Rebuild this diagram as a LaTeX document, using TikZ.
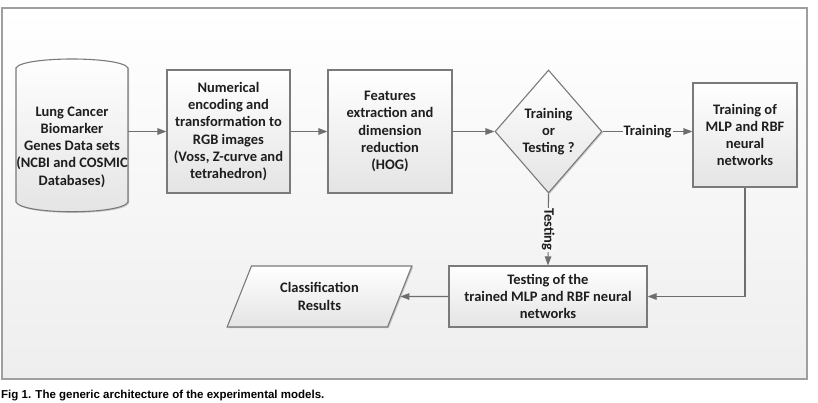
\documentclass[tikz,border=0pt]{standalone}
\usepackage{fontspec}
\setmainfont{Carlito}
\newfontfamily\capfont{Liberation Sans}
\usetikzlibrary{shapes.geometric,arrows.meta,shadows}

\definecolor{linegray}{HTML}{6E6E6E}
\definecolor{bordergray}{HTML}{7A7A7A}
\definecolor{txt}{HTML}{1E1E1E}
\definecolor{bgbot}{HTML}{EEEEEE}
\definecolor{boxbot}{HTML}{E4E4E4}
\definecolor{lblA}{HTML}{FAFAFA}
\definecolor{lblB}{HTML}{F6F6F6}

\tikzset{
  every node/.style={font=\fontsize{14.5}{17.3}\selectfont\bfseries, text=txt},
  shape frame/.style={draw=bordergray, line width=1.1pt, top color=white, bottom color=boxbot,
    drop shadow={shadow xshift=1.2pt, shadow yshift=-1.2pt, fill=black, opacity=0.18}},
  box/.style={shape frame, rectangle, align=center, inner sep=0pt},
  decision/.style={shape frame, diamond, align=center, inner sep=0pt},
  io/.style={shape frame, trapezium, trapezium left angle=63, trapezium right angle=117,
    trapezium stretches=true, align=center, inner sep=0pt},
  conn/.style={draw=linegray, line width=1.1pt, -{Triangle[length=9pt,width=6.5pt]}},
  lab/.style={inner sep=1pt, fill=#1},
}

\begin{document}
\begin{tikzpicture}[x=1pt,y=-1pt]
\useasboundingbox (0,0) rectangle (818,402);

% outer frame
\draw[draw=gray!75, line width=1.2pt, top color=white, bottom color=bgbot] (2,8) rectangle (807,379);

% database (cylinder-like) shape
\draw[draw=bordergray, line width=1.1pt, top color=white, bottom color=boxbot,
      drop shadow={shadow xshift=1.2pt, shadow yshift=-1.2pt, fill=black, opacity=0.18}]
  (16,68) .. controls (22,56) and (122,56) .. (128,68) -- (128,202)
  .. controls (122,215) and (22,215) .. (16,202) -- cycle;
\node[minimum width=112pt, minimum height=134pt, inner sep=0pt] (db) at (72,135) {};
\node[align=center, inner sep=0pt] (dbtext) at (72,147)
  {Lung Cancer\\Biomarker\\Genes Data sets\\(NCBI and COSMIC\\Databases)};

\node[box, minimum width=123pt, minimum height=123pt] (enc) at (228.5,131.5)
  {Numerical\\encoding and\\transformation to\\RGB images\\(Voss, Z-curve and\\tetrahedron)};
\node[box, minimum width=124pt, minimum height=123pt] (feat) at (390,131.5)
  {Features\\extraction and\\dimension\\reduction\\(HOG)};
\node[decision, minimum width=107pt, minimum height=123pt] (dec) at (548.5,131.5)
  {Training\\or\\Testing ?};
\node[box, minimum width=104pt, minimum height=104pt] (train) at (745,135)
  {Training of\\MLP and RBF\\neural\\networks};
\node[box, minimum width=198pt, minimum height=61pt] (test) at (548,296.5)
  {Testing of the\\trained MLP and RBF neural\\networks};
\node[io, minimum width=185pt, minimum height=61pt] (res) at (319.5,296.5)
  {Classification\\Results};

\draw[conn] (db.east |- enc.west) -- (enc.west);
\draw[conn] (enc.east) -- (feat.west);
\draw[conn] (feat.east) -- (dec.west);
\draw[conn] (dec.east) -- node[lab=lblA]{Training} (dec.east -| train.west);
\draw[conn] (dec.south) -- node[lab=lblB, rotate=-90]{Testing} (test.north);
\draw[conn] (train.south) |- (test.east);
\draw[conn] (test.west) -- (res.east);

\node[anchor=base west, inner sep=0pt, text=black,
      font=\capfont\bfseries\fontsize{11.5}{12}\selectfont] (cap) at (1,398.3)
  {Fig 1. The generic architecture of the experimental models.};
\end{tikzpicture}
\end{document}
